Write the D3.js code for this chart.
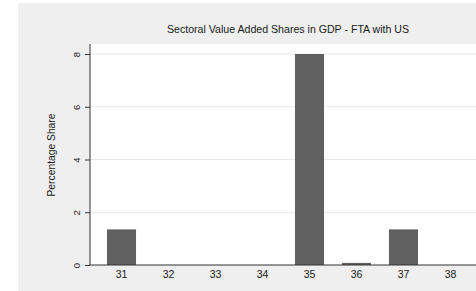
<!doctype html>
<html lang="en">
  <head>
    <meta charset="utf-8">
    <title>Sectoral Value Added Shares</title>
    <style>
      body { margin: 0; background: #fff; }
      text { font-family: "Liberation Sans", Arial, sans-serif; fill: #1a1a1a; }
    </style>
  </head>
  <body>
    <script src="https://d3js.org/d3.v7.min.js"></script>
    <script>
      var sectors = ['31', '32', '33', '34', '35', '36', '37', '38'];
      var shares = [1.35, 0, 0, 0, 8.0, 0.08, 1.35, 0];
      var yTicks = [0, 2, 4, 6, 8];

      var W = 476, H = 291;
      var plot = { left: 90, top: 44, right: 482, bottom: 265 };

      var svg = d3.select('body').append('svg')
          .attr('width', W)
          .attr('height', H);

      // outer gray panel
      svg.append('rect')
          .attr('x', 18).attr('y', 3)
          .attr('width', W - 18).attr('height', H - 3)
          .attr('fill', '#efefef');

      // plot region
      svg.append('rect')
          .attr('x', plot.left).attr('y', plot.top)
          .attr('width', plot.right - plot.left).attr('height', plot.bottom - plot.top)
          .attr('fill', '#fff');

      var x = d3.scaleBand()
          .domain(sectors)
          .range([plot.left, plot.right])
          .paddingInner(0.382)
          .paddingOuter(0.362);

      var y = d3.scaleLinear()
          .domain([0, 8])
          .range([plot.bottom, 54]);

      // gridlines
      svg.append('g')
        .selectAll('line')
        .data(yTicks.slice(1))
        .enter().append('line')
          .attr('x1', plot.left).attr('x2', plot.right)
          .attr('y1', function(d) { return y(d); })
          .attr('y2', function(d) { return y(d); })
          .attr('stroke', '#e8e8e8')
          .attr('stroke-width', 1);

      // bars
      svg.append('g')
        .selectAll('rect')
        .data(shares)
        .enter().append('rect')
          .attr('x', function(d, i) { return x(sectors[i]); })
          .attr('y', function(d) { return y(d); })
          .attr('width', x.bandwidth())
          .attr('height', function(d) { return y(0) - y(d); })
          .attr('fill', '#606060');

      // y axis
      var yAxis = svg.append('g')
          .attr('transform', 'translate(' + plot.left + ',0)')
          .call(d3.axisLeft(y).tickValues(yTicks).tickSize(5));
      yAxis.select('.domain')
          .attr('d', 'M0,' + plot.top + 'V' + plot.bottom)
          .attr('stroke', '#333');
      yAxis.selectAll('.tick line').attr('stroke', '#333');
      yAxis.selectAll('.tick text')
          .attr('font-size', 9.5)
          .attr('text-anchor', 'middle')
          .attr('x', 0)
          .attr('y', 0)
          .attr('dy', '0.32em')
          .attr('transform', 'translate(-13,0) rotate(-90)');

      // x axis
      var xAxis = svg.append('g')
          .attr('transform', 'translate(0,' + plot.bottom + ')')
          .call(d3.axisBottom(x).tickSize(0).tickPadding(6));
      xAxis.select('.domain')
          .attr('d', 'M' + plot.left + ',0H' + plot.right)
          .attr('stroke', '#333');
      xAxis.selectAll('.tick text').attr('font-size', 10.5);

      // axis title
      svg.append('text')
          .attr('transform', 'translate(55,155) rotate(-90)')
          .attr('text-anchor', 'middle')
          .attr('font-size', 10.3)
          .text('Percentage Share');

      // chart title
      svg.append('text')
          .attr('x', 288).attr('y', 33)
          .attr('text-anchor', 'middle')
          .attr('font-size', 10.6)
          .text('Sectoral Value Added Shares in GDP - FTA with US');
    </script>
  </body>
</html>
